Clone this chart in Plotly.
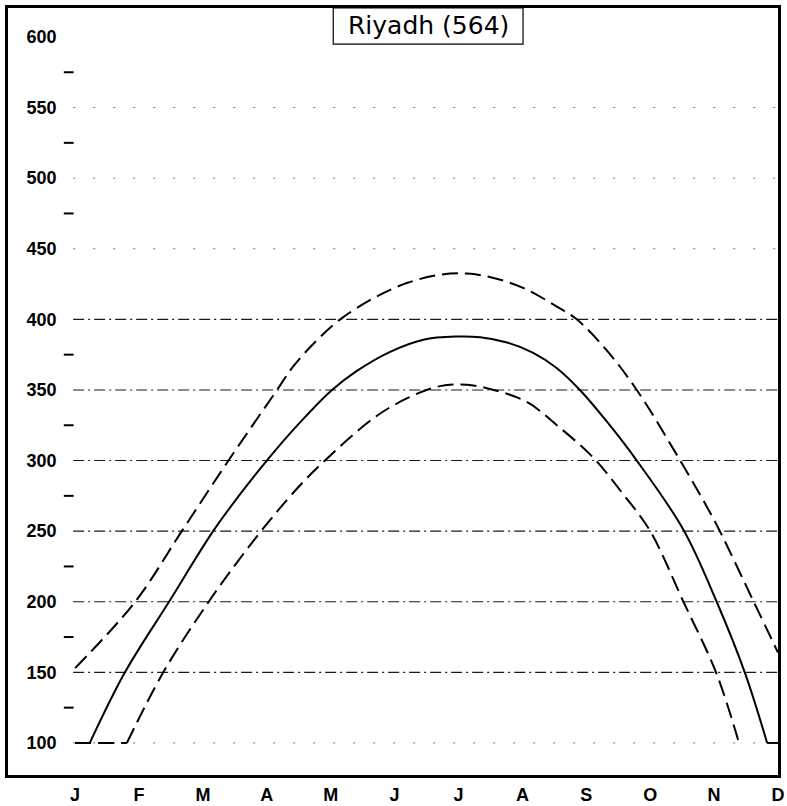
import plotly.graph_objects as go

# ---- data -------------------------------------------------------------
month_labels = ["J", "F", "M", "A", "M", "J", "J", "A", "S", "O", "N", "D"]
month_pos = list(range(12))

y_ticks = [100, 150, 200, 250, 300, 350, 400, 450, 500, 550, 600]
y_minor = [125, 175, 225, 275, 325, 375, 475, 525, 575]

# middle (solid) curve
mid_m = [0, 0.23, 0.78, 1.47, 2.16, 2.58, 3.0, 3.52, 4.02, 4.41, 4.93, 5.45, 5.97, 6.34,
         6.76, 7.17, 7.54, 7.9, 8.32, 8.79, 9.52, 10.04, 10.48, 10.83, 11.0]
mid_v = [100, 100, 150, 200, 250, 276, 300, 327, 350, 363.5, 377, 385.6, 387.8, 387.3,
         383.6, 376.3, 365.4, 350, 327.7, 300, 251, 200, 150, 100, 100]

# upper (dashed) curve
up_m = [0, 0.94, 1.67, 2.4, 3.13, 3.42, 3.78, 4.15, 4.67, 5.19, 5.71, 6.13, 6.55, 7.02,
        7.54, 7.85, 8.32, 8.79, 9.47, 9.89, 10.09, 10.62, 11.0]
up_v = [153, 200, 250, 300, 348, 367, 385, 400, 415, 425.7, 431.6, 432.4, 429.3, 422.1,
        409, 400, 378, 350, 300, 267, 250, 200, 164]

# lower (dashed) curve
lo_m = [0, 0.81, 1.38, 2.09, 2.84, 3.47, 3.91, 4.67, 5.19, 5.71, 6.13, 6.55, 7.07, 7.54,
        8.11, 8.58, 9.0, 9.52, 10.03, 10.39]
lo_v = [100, 100, 150, 200, 246, 280, 300, 330, 344, 352.7, 353.7, 350, 341.5, 325,
        302, 276, 250, 200, 150, 100]

title_text = "Riyadh (564)"

# ---- figure -----------------------------------------------------------
fig = go.Figure()

# grid lines (drawn first so curves sit on top)
for v in y_ticks:
    if v == 600:
        continue
    if 150 <= v <= 400:
        dash, col, w = "11px,4px,2px,4px", "#1a1a1a", 1.1
    else:
        dash, col, w = "2px,18px", "#777777", 1
    fig.add_shape(type="line", xref="x", yref="y", x0=-0.03, x1=11.0, y0=v, y1=v,
                  line=dict(color=col, width=w, dash=dash), layer="below")

# minor tick dashes on the left
fig.add_trace(go.Scatter(x=[-0.1] * len(y_minor), y=y_minor, mode="markers",
                         marker=dict(symbol="line-ew", size=7, line=dict(width=2, color="black")),
                         hoverinfo="skip", showlegend=False))


def add_curve(m, v, dash):
    """Curved part drawn smooth; clipped flat parts (at 100) drawn straight."""
    i0 = 0
    while i0 + 1 < len(v) and v[i0 + 1] == v[0] == 100:
        i0 += 1
    i1 = len(v) - 1
    while i1 - 1 >= 0 and v[i1 - 1] == v[-1] == 100:
        i1 -= 1
    line_s = dict(color="black", width=2, dash=dash)
    if i0 > 0:
        fig.add_trace(go.Scatter(x=m[:i0 + 1], y=v[:i0 + 1], mode="lines", showlegend=False,
                                 line=line_s, hoverinfo="skip"))
    fig.add_trace(go.Scatter(x=m[i0:i1 + 1], y=v[i0:i1 + 1], mode="lines", showlegend=False,
                             line=dict(line_s, shape="spline", smoothing=1.0)))
    if i1 < len(v) - 1:
        fig.add_trace(go.Scatter(x=m[i1:], y=v[i1:], mode="lines", showlegend=False,
                                 line=line_s, hoverinfo="skip"))


add_curve(up_m, up_v, "16px,7px")
add_curve(mid_m, mid_v, "solid")
add_curve(lo_m, lo_v, "16px,7px")

# title box
fig.add_shape(type="rect", xref="x", yref="paper", x0=4.04, x1=7.01, y0=0.953, y1=1.0,
              line=dict(color="black", width=1.2), fillcolor="white")
fig.add_annotation(x=5.53, y=0.977, xref="x", yref="paper", text=title_text, showarrow=False,
                   yanchor="middle",
                   font=dict(family="DejaVu Sans", size=25, color="black"))

tick_font = dict(family="Liberation Sans", size=18, color="black", weight="bold")
fig.update_layout(
    template="none",
    width=787, height=806,
    margin=dict(l=8, r=9, t=8, b=31, autoexpand=False),
    paper_bgcolor="white", plot_bgcolor="white",
    showlegend=False,
    xaxis=dict(range=[-1.05, 11.0], tickvals=month_pos, ticktext=month_labels,
               automargin=False, showgrid=False, zeroline=False, showline=True, mirror=True,
               linecolor="black", linewidth=3, ticks="",
               tickfont=tick_font, ticklabelstandoff=1),
    yaxis=dict(range=[77.3, 620.5], tickvals=y_ticks, ticktext=[str(v) for v in y_ticks],
               automargin=False, showgrid=False, zeroline=False, showline=True, mirror=True,
               linecolor="black", linewidth=3, ticks="",
               ticklabelposition="inside", ticklabelstandoff=19,
               tickfont=tick_font),
)

fig.write_html("out.html")
